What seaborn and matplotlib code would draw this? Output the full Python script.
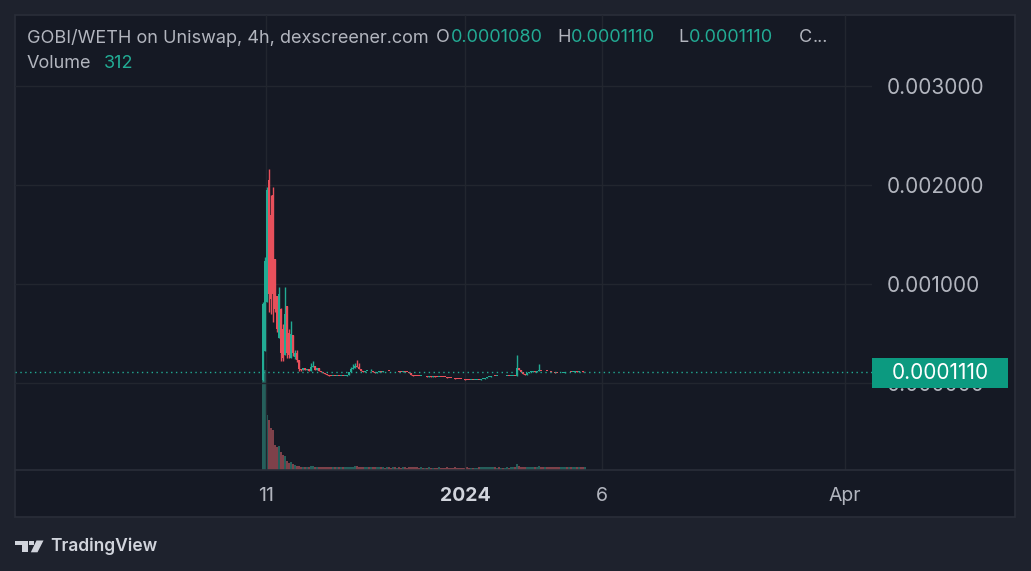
import numpy as np
import pandas as pd
import matplotlib
matplotlib.use("Agg")
import matplotlib.pyplot as plt
import seaborn as sns
from matplotlib.patches import Rectangle, Polygon
from matplotlib.lines import Line2D

# ---------------- data (prices in millionths of WETH) ----------------
close_u = [
    800, 1230, 1950, 900, 850, 900, 750, 550, 900, 300,
    250, 700, 300, 280, 500, 300, 300, 230, 140, 130,
    150, 130, 145, 125, 160, 170, 130, 150, 125, 110,
    100, 90, 85, 75, 72, 75, 70, 72, 70, 71,
    70, 72, 85, 110, 140, 150, 175, 160, 140, 120,
    115, 120, 125, 118, 125, 110, 105, 115, 120, 115,
    120, 118, 122, 120, 118, 120, 117, 119, 116, 115,
    117, 114, 113, 100, 85, 75, 72, 70, 68, 70,
    66, 68, 65, 67, 64, 66, 65, 63, 64, 62,
    60, 58, 55, 52, 50, 47, 45, 42, 40, 38,
    36, 35, 34, 33, 34, 32, 33, 35, 34, 40,
    45, 52, 58, 62, 66, 70, 68, 70, 67, 69,
    66, 68, 70, 69, 71, 72, 71, 150, 130, 110,
    95, 85, 100, 110, 115, 118, 115, 120, 122, 120,
    118, 121, 119, 117, 116, 108, 102, 100, 98, 100,
    105, 112, 108, 115, 112, 115, 118, 116, 118, 117,
    108, 111,
]
open_spike_u = [30, 320, 820, 2050, 1700, 1900, 1250, 880, 450, 750,
                550, 280, 780, 500, 250, 480, 260, 300]
high_wicks_u = {0: 820, 1: 1270, 2: 1980, 3: 2160, 4: 1900, 5: 1980, 8: 970,
                9: 760, 10: 600, 11: 970, 13: 550, 14: 630, 16: 330, 17: 330,
                24: 200, 25: 220, 44: 160, 45: 190, 46: 200, 47: 230, 48: 200,
                54: 140, 127: 280, 138: 190}
low_wicks_u = {0: 20, 1: 320, 3: 720, 4: 700, 5: 620, 6: 720, 7: 520, 9: 220,
               10: 220, 12: 250, 13: 250, 15: 270, 16: 240, 17: 210, 18: 120,
               19: 120}
volume = [
    14000, 10000, 5500, 5000, 4200, 4000, 2500, 2300, 2400, 1800,
    1500, 1400, 900, 700, 800, 600,
    500, 450, 400, 350, 300, 320, 300, 280, 420, 380,
    300, 280, 300, 320, 300, 290, 280, 300, 280, 270,
    260, 270, 280, 260, 270, 280, 300, 320, 330, 350,
    360, 380, 340, 320, 300, 280, 270, 260, 280, 270,
    260, 270, 280, 260, 270, 250, 260, 270, 250, 260,
    270, 250, 260, 250, 260, 270, 250, 280, 300, 290,
    270, 260, 250, 260, 250, 240, 250, 260, 240, 250,
    240, 250, 260, 250, 240, 250, 260, 250, 240, 250,
    260, 250, 240, 250, 240, 250, 260, 240, 250, 240,
    250, 240, 260, 270, 280, 290, 280, 270, 260, 270,
    260, 250, 260, 250, 240, 250, 260, 250, 260, 270,
    280, 600, 420, 350, 320, 300, 290, 300, 280, 290,
    280, 290, 450, 300, 280, 290, 280, 270, 280, 300,
    310, 290, 280, 300, 290, 280, 300, 290, 280, 270,
    280, 290, 280, 270, 300, 312,
]
price_ticks = [0.0, 0.001, 0.002, 0.003]
price_tick_labels = ["0.000000", "0.001000", "0.002000", "0.003000"]
time_tick_pos = [1.5, 101, 169.5, 291]
time_tick_labels = ["11", "2024", "6", "Apr"]
last_price = 0.000111
last_price_label = "0.0001110"
title_text = "GOBI/WETH on Uniswap, 4h, dexscreener.com"
ohlc_keys = ["O", "H", "L", "C"]
ohlc_vals = ["0.0001080", "0.0001110", "0.0001110", "..."]
volume_label = "Volume"
volume_value = "312"

# ---------------- build OHLC ----------------
close = np.array(close_u, dtype=float) * 1e-6
n = len(close)
opn = np.empty(n)
k = len(open_spike_u)
opn[:k] = np.array(open_spike_u) * 1e-6
opn[k:] = close[k - 1:-1]
high = np.maximum(opn, close)
low = np.minimum(opn, close)
for i, v in high_wicks_u.items():
    high[i] = v * 1e-6
for i, v in low_wicks_u.items():
    low[i] = v * 1e-6
idx = np.arange(n)
up = close >= opn

df = pd.DataFrame({"i": idx, "vol": volume,
                   "dir": np.where(up, "up", "down")})

# ---------------- style ----------------
OUTER = "#1e222d"
PANEL = "#151924"
BORDER = "#2a2e39"
GRID = "#22262f"
TXT = "#b2b5be"
TXT2 = "#d1d4dc"
UPC = "#22ab94"
DNC = "#e8505b"

sns.set_theme(style="dark")
plt.rcParams["font.family"] = ["Inter", "DejaVu Sans"]

W, H = 1031, 571
fig = plt.figure(figsize=(W / 100, H / 100), dpi=100)
fig.patch.set_facecolor(OUTER)


def fx(px):
    return px / W


def fy(py):
    return 1 - py / H


# panel frame
fig.patches.append(Rectangle((fx(15), fy(517)), fx(1015) - fx(15), fy(15) - fy(517),
                             transform=fig.transFigure, fc=PANEL, ec=BORDER,
                             lw=1.2, zorder=-5))
fig.lines.append(Line2D([fx(15), fx(1015)], [fy(470), fy(470)],
                        transform=fig.transFigure, color=BORDER, lw=1.2, zorder=3))

rect = [fx(15), fy(470), (872 - 15) / W, (470 - 15) / H]
xlim = ((15 - 263) / 2, (872 - 263) / 2)

# volume axes (behind)
axv = fig.add_axes(rect, zorder=1)
axv.set_facecolor("none")
sns.barplot(data=df, x="i", y="vol", hue="dir", hue_order=["up", "down"],
            palette={"up": UPC, "down": DNC}, dodge=False, native_scale=True,
            width=0.7, errorbar=None, legend=False, alpha=0.55, linewidth=0,
            ax=axv)
axv.set_xlim(*xlim)
axv.set_ylim(0, 45500)
axv.axis("off")

# price axes
ax = fig.add_axes(rect, zorder=2)
ax.set_facecolor("none")
ax.set_xlim(*xlim)
ax.set_ylim(-(470 - 383) / 99 * 0.001, (383 - 15) / 99 * 0.001)
for s in ax.spines.values():
    s.set_visible(False)
ax.grid(True, color=GRID, lw=1)
ax.set_axisbelow(True)

cols = np.where(up, UPC, DNC)
ax.vlines(idx, low, high, colors=cols, lw=1, zorder=3)
body = np.maximum(np.abs(close - opn), 0.8e-5)
ax.bar(idx, body, bottom=np.minimum(opn, close), width=0.7, color=cols,
       linewidth=0, zorder=4)

ax.axhline(last_price, color=UPC, ls=(0, (1, 2.5)), lw=1, zorder=5)

ax.yaxis.tick_right()
ax.set_yticks(price_ticks)
ax.set_yticklabels(price_tick_labels)
ax.tick_params(axis="y", length=0, pad=10.8, labelsize=15, labelcolor=TXT)
ax.set_xticks(time_tick_pos)
ax.set_xticklabels(time_tick_labels)
ax.tick_params(axis="x", length=0, pad=12.5, labelsize=14, labelcolor=TXT)
lab = ax.get_xticklabels()[1]
lab.set_fontweight("bold")
lab.set_color(TXT2)

# last price box
fig.patches.append(Rectangle((fx(872), fy(388)), (1008 - 872) / W, 30 / H,
                             transform=fig.transFigure, fc="#0c9a80", ec="none",
                             zorder=8))
fig.text(fx(940), fy(373), last_price_label, ha="center", va="center",
         fontsize=15, color="white", zorder=9)

# header: keys at the reference positions, values right after each key
renderer = fig.canvas.get_renderer()


def put(x0, y0, s, color):
    t = fig.text(fx(x0), fy(y0), s, fontsize=13, color=color, va="center")
    bb = t.get_window_extent(renderer=renderer)
    return x0 + bb.width


fig.text(fx(27), fy(38), title_text, fontsize=13, color=TXT, va="center")
key_x = [436, 557, 678, 799]
for key, val, kx in zip(ohlc_keys, ohlc_vals, key_x):
    x = put(kx, 38, key, TXT)
    put(x + 0.5, 38, val, UPC if val != "..." else TXT)
fig.text(fx(27), fy(63), volume_label, fontsize=13, color=TXT, va="center")
fig.text(fx(104), fy(63), volume_value, fontsize=13, color=UPC, va="center")


# TradingView logo
def P(pts):
    return [(fx(a), fy(b)) for a, b in pts]


fig.patches.append(Polygon(P([(15, 540.5), (28.3, 540.5), (28.3, 552.3), (21.7, 552.3),
                              (21.7, 545), (15, 545)]),
                           closed=True, transform=fig.transFigure, fc=TXT2, ec="none"))
fig.patches.append(Polygon(P([(29, 540.5), (33.5, 540.5), (33.5, 545), (29, 545)]),
                           closed=True, transform=fig.transFigure, fc=TXT2, ec="none"))
fig.patches.append(Polygon(P([(36.5, 540.5), (43.5, 540.5), (37.5, 552.3), (30.8, 552.3)]),
                           closed=True, transform=fig.transFigure, fc=TXT2, ec="none"))
fig.text(fx(50), fy(546), "TradingView", fontsize=12.5, fontweight="semibold",
         color=TXT2, va="center")

fig.savefig("out.png", dpi=100, facecolor=OUTER)
